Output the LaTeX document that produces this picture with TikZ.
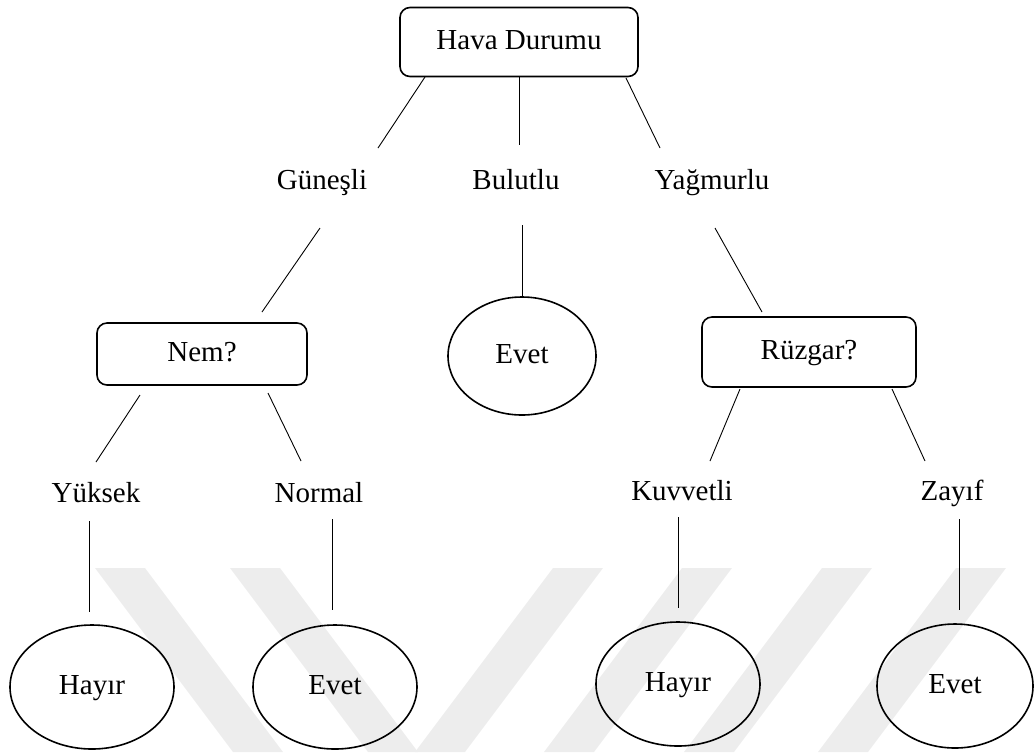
\documentclass[tikz,border=0pt]{standalone}
\usepackage{fontspec}
\setmainfont{Liberation Serif}
\usetikzlibrary{shapes.geometric, calc}

\begin{document}
\begin{tikzpicture}[x=0.5pt, y=-0.5pt,
        font=\fontsize{14.5}{17}\selectfont,
        every node/.style={text height=10pt, text depth=3pt},
        testbox/.style={draw, line width=0.8pt, rounded corners=5pt, inner sep=0pt},
        leaf/.style={draw, ellipse, line width=0.8pt, inner sep=0pt, minimum width=82pt, minimum height=62pt},
        branch/.style={inner sep=2pt},
        edge/.style={line width=0.45pt},
        wmark/.style={fill=black!7}]
        \useasboundingbox (0,0) rectangle (1034,752);

        % Watermark bands
        \foreach \x in {95,230}
            \fill[wmark] (\x,568) -- (\x+50,568) -- (\x+188,752) -- (\x+138,752) -- cycle;
        \foreach \x in {553,682,822,956}
            \fill[wmark] (\x,568) -- (\x+50,568) -- (\x-88,752) -- (\x-138,752) -- cycle;

        % Root
        \node[testbox, minimum width=119pt, minimum height=34.5pt] (hava) at (519,42) {Hava Durumu};

        % First level branches
        \node[branch] (gunesli) at (322,182) {Güneşli};
        \node[branch] (bulutlu) at (516,182) {Bulutlu};
        \node[branch] (yagmurlu) at (712,182) {Yağmurlu};

        % Second level
        \node[testbox, minimum width=105pt, minimum height=31pt] (nem) at (202,354) {Nem?};
        \node[leaf, minimum width=74pt, minimum height=59pt] (evetB) at (522,356) {Evet};
        \node[testbox, minimum width=107pt, minimum height=35pt] (ruzgar) at (809,352) {Rüzgar?};

        % Second level branches
        \node[branch] (yuksek) at (96,495) {Yüksek};
        \node[branch] (normal) at (319,495) {Normal};
        \node[branch] (kuvvetli) at (682,493) {Kuvvetli};
        \node[branch] (zayif) at (952,493) {Zayıf};

        % Leaves
        \node[leaf] (hayirA) at (92,687) {Hayır};
        \node[leaf] (evetC) at (335,687) {Evet};
        \node[leaf] (hayirB) at (678,684) {Hayır};
        \node[leaf, minimum width=78pt] (evetD) at (955,686) {Evet};

        % Connectors
        \draw[edge] ($(hava)+(-94,35)$) -- ($(gunesli)+(56,-34)$);
        \draw[edge] (hava.south) -- ($(bulutlu)+(3,-37)$);
        \draw[edge] ($(hava)+(107,36)$) -- ($(yagmurlu)+(-52,-34)$);
        \draw[edge] ($(gunesli)+(-2,46)$) -- ($(nem)+(60,-42)$);
        \draw[edge] ($(bulutlu)+(6,43)$) -- (evetB.north);
        \draw[edge] ($(yagmurlu)+(3,46)$) -- ($(ruzgar)+(-47,-40)$);
        \draw[edge] ($(nem)+(-62,41)$) -- ($(yuksek)+(0,-33)$);
        \draw[edge] ($(nem)+(66,39)$) -- ($(normal)+(-18,-34)$);
        \draw[edge] ($(yuksek)+(-7,26)$) -- ($(hayirA)+(-3,-75)$);
        \draw[edge] ($(normal)+(13,24)$) -- ($(evetC)+(-3,-77)$);
        \draw[edge] ($(ruzgar)+(-69,37)$) -- ($(kuvvetli)+(28,-32)$);
        \draw[edge] ($(ruzgar)+(83,37)$) -- ($(zayif)+(-27,-32)$);
        \draw[edge] ($(kuvvetli)+(-4,24)$) -- ($(hayirB)+(0,-76)$);
        \draw[edge] ($(zayif)+(7,26)$) -- ($(evetD)+(4,-76)$);

\end{tikzpicture}
\end{document}
